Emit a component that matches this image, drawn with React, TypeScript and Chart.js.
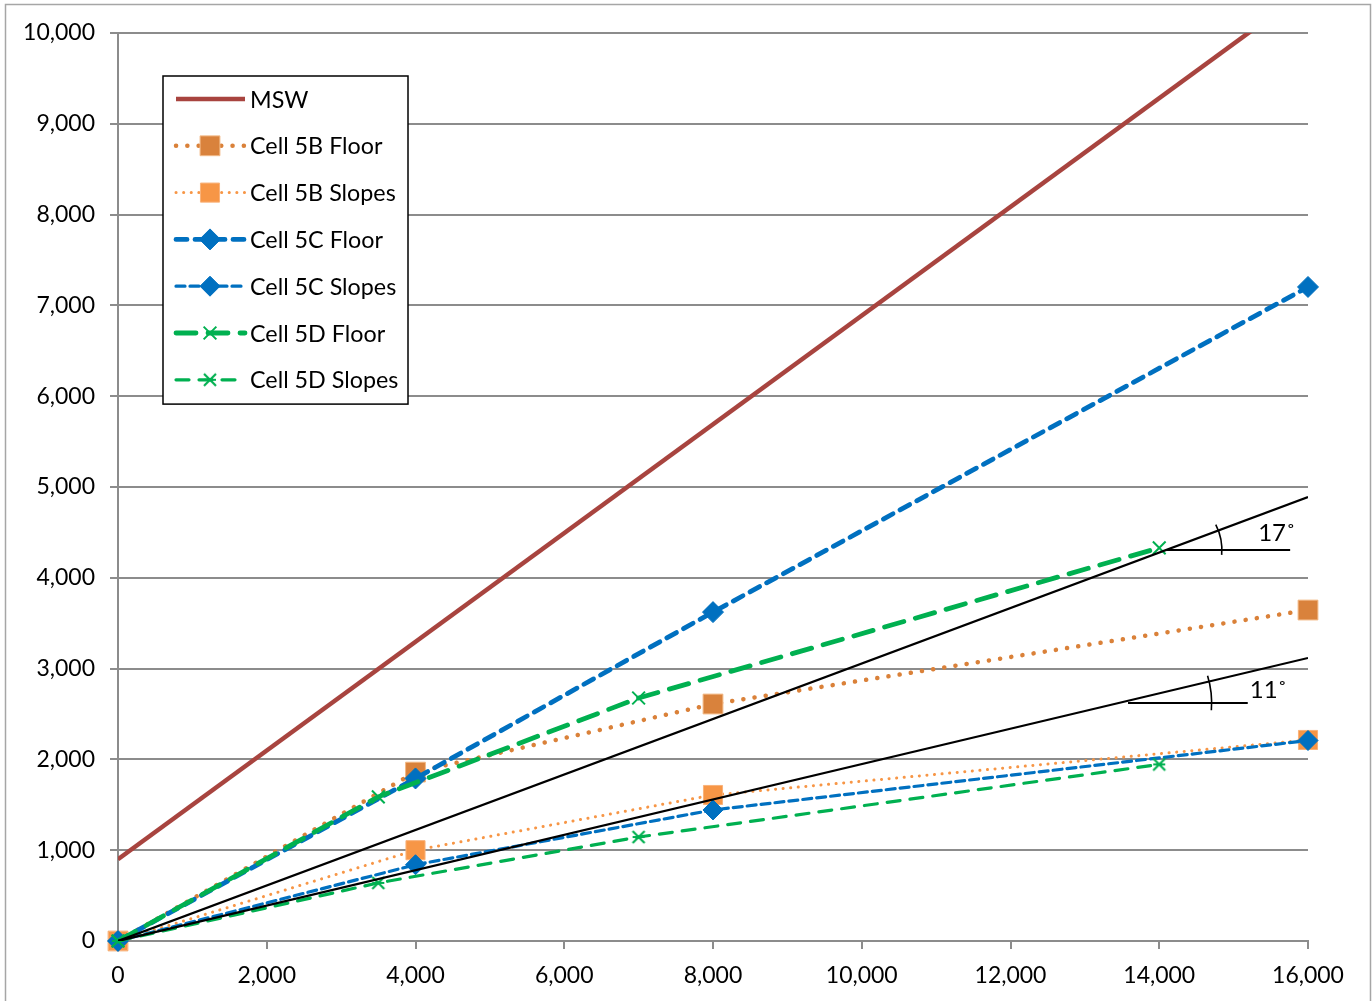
import React, { useEffect, useRef } from 'react';
import { Chart, registerables } from 'chart.js';

Chart.register(...registerables);

// ---- data ----
const xCell5BC = [0, 4000, 8000, 16000];
const cell5BFloor = [0, 1860, 2610, 3645];
const cell5BSlopes = [0, 1000, 1608, 2214];
const cell5CFloor = [0, 1790, 3622, 7203];
const cell5CSlopes = [0, 840, 1443, 2208];
const xCell5D = [0, 3500, 7000, 14000];
const cell5DFloor = [0, 1588, 2676, 4330];
const cell5DSlopes = [0, 640, 1145, 1945];
const mswX = [0, 16000];
const mswY = [900, 10480];
const refX = [0, 16000];
const ref17 = [0, 4890];
const ref11 = [0, 3117];
const angleNames = ['17˚', '11˚'];
const angleBaseY = [4306, 2621];
const angleBaseX0 = [14100, 13580];
const angleBaseX1 = [15760, 15190];
const xTicks = { min: 0, max: 16000, step: 2000 };
const yTicks = { min: 0, max: 10000, step: 1000 };

const pts = (xs: number[], ys: number[]) => xs.map((x, i) => ({ x, y: ys[i] }));

const FONT = 'Lato, "Open Sans", sans-serif';
const GRID = '#8c8c8c';

function makeStar(color: string) {
  const c = document.createElement('canvas');
  c.width = 20;
  c.height = 20;
  const g = c.getContext('2d')!;
  g.strokeStyle = color;
  g.lineWidth = 2.2;
  g.beginPath();
  g.moveTo(4, 4); g.lineTo(16, 16);
  g.moveTo(16, 4); g.lineTo(4, 16);
  g.moveTo(4, 10); g.lineTo(16, 10);
  g.stroke();
  return c;
}

function drawMarker(ctx: CanvasRenderingContext2D, ds: any, x: number, y: number) {
  const style = ds.pointStyle;
  const r = ds.pointRadius || 0;
  if (!r) return;
  ctx.save();
  ctx.setLineDash([]);
  ctx.fillStyle = ds.pointBackgroundColor;
  ctx.strokeStyle = ds.pointBorderColor;
  ctx.lineWidth = ds.pointBorderWidth;
  if (style instanceof HTMLCanvasElement) {
    ctx.drawImage(style, x - style.width / 2, y - style.height / 2);
  } else if (style === 'rect') {
    const s = Math.SQRT1_2 * r;
    ctx.beginPath();
    ctx.rect(x - s, y - s, 2 * s, 2 * s);
    ctx.fill();
    ctx.stroke();
  } else if (style === 'rectRot') {
    ctx.beginPath();
    ctx.moveTo(x - r, y);
    ctx.lineTo(x, y - r);
    ctx.lineTo(x + r, y);
    ctx.lineTo(x, y + r);
    ctx.closePath();
    ctx.fill();
    ctx.stroke();
  } else if (style === 'crossRot') {
    const o = Math.SQRT1_2 * r;
    ctx.beginPath();
    ctx.moveTo(x - o, y - o); ctx.lineTo(x + o, y + o);
    ctx.moveTo(x + o, y - o); ctx.lineTo(x - o, y + o);
    ctx.stroke();
  }
  ctx.restore();
}

const framePlugin = {
  id: 'frame',
  beforeDraw(chart: any) {
    const ctx = chart.ctx;
    ctx.save();
    ctx.fillStyle = '#ffffff';
    ctx.fillRect(0, 0, chart.width, chart.height);
    ctx.strokeStyle = '#a6a6a6';
    ctx.lineWidth = 1.5;
    ctx.strokeRect(5.5, 4.5, chart.width - 7, chart.height + 50);
    ctx.restore();
  },
};

const anglePlugin = {
  id: 'angles',
  afterDatasetsDraw(chart: any) {
    const ctx = chart.ctx;
    const xs = chart.scales.x;
    const ys = chart.scales.y;
    const slopes = [ref17[1] / refX[1], ref11[1] / refX[1]];
    const radii = [56, 93];
    const arcs = [[-27, 5], [-17, 4.5]];
    const labelOff = [[-32, -17], [2, -13]];
    ctx.save();
    for (let i = 0; i < angleNames.length; i++) {
      const yv = angleBaseY[i];
      const xv = yv / slopes[i];
      const cx = xs.getPixelForValue(xv);
      const cy = ys.getPixelForValue(yv);
      const sx = xs.getPixelForValue(angleBaseX0[i]);
      const ex = xs.getPixelForValue(angleBaseX1[i]);
      ctx.strokeStyle = '#000';
      ctx.lineWidth = 2;
      ctx.setLineDash([]);
      ctx.beginPath();
      ctx.moveTo(sx, cy);
      ctx.lineTo(ex, cy);
      ctx.stroke();
      ctx.lineWidth = 1.6;
      ctx.beginPath();
      ctx.arc(cx, cy, radii[i], (arcs[i][0] * Math.PI) / 180, (arcs[i][1] * Math.PI) / 180);
      ctx.stroke();
      ctx.fillStyle = '#000';
      ctx.font = `24px ${FONT}`;
      ctx.textAlign = 'left';
      ctx.textBaseline = 'middle';
      ctx.fillText(angleNames[i], ex + labelOff[i][0], cy + labelOff[i][1]);
    }
    ctx.restore();
  },
};

const legendPlugin = {
  id: 'boxLegend',
  afterDraw(chart: any) {
    const ctx = chart.ctx;
    const area = chart.chartArea;
    const items = chart.data.datasets.filter((d: any) => d.inLegend);
    const left = area.left + 45;
    const top = area.top + 43;
    const w = 245;
    const rowH = 46.8;
    const h = rowH * items.length + 0.5;
    ctx.save();
    ctx.fillStyle = '#fff';
    ctx.fillRect(left, top, w, h);
    ctx.strokeStyle = '#000';
    ctx.lineWidth = 1.5;
    ctx.strokeRect(left, top, w, h);
    items.forEach((ds: any, i: number) => {
      const y = top + 23 + i * rowH;
      ctx.save();
      ctx.strokeStyle = ds.borderColor;
      ctx.lineWidth = ds.borderWidth;
      ctx.lineCap = ds.borderCapStyle || 'butt';
      ctx.setLineDash(ds.borderDash || []);
      ctx.beginPath();
      ctx.moveTo(left + 13, y);
      ctx.lineTo(left + 82, y);
      ctx.stroke();
      ctx.restore();
      drawMarker(ctx, ds, left + 47, y);
      ctx.fillStyle = '#000';
      ctx.font = `23.3px ${FONT}`;
      ctx.textAlign = 'left';
      ctx.textBaseline = 'middle';
      ctx.fillText(ds.label, left + 87, y + 1);
    });
    ctx.restore();
  },
};

export default function App() {
  const ref = useRef<HTMLCanvasElement>(null);
  useEffect(() => {
    const star = makeStar('#00B050');
    const chart = new Chart(ref.current!, {
      type: 'line',
      data: {
        datasets: [
          {
            label: 'MSW', inLegend: true, order: 9, clip: 0,
            data: pts(mswX, mswY), borderColor: '#A8443F', borderWidth: 4.5,
            pointRadius: 0,
          },
          {
            label: 'Cell 5B Floor', inLegend: true, order: 8, clip: false,
            data: pts(xCell5BC, cell5BFloor), borderColor: '#DA8139', borderWidth: 4.5,
            borderDash: [0.1, 11.2], borderCapStyle: 'round',
            pointStyle: 'rect', pointRadius: 14, pointBackgroundColor: '#D9823C', pointBorderColor: '#F2B884', pointBorderWidth: 1,
          },
          {
            label: 'Cell 5B Slopes', inLegend: true, order: 7, clip: false,
            data: pts(xCell5BC, cell5BSlopes), borderColor: '#F79646', borderWidth: 3,
            borderDash: [0.1, 7.5], borderCapStyle: 'round',
            pointStyle: 'rect', pointRadius: 13.5, pointBackgroundColor: '#F79646', pointBorderColor: '#F9B27A', pointBorderWidth: 1,
          },
          {
            label: 'Cell 5C Floor', inLegend: true, order: 6, clip: false,
            data: pts(xCell5BC, cell5CFloor), borderColor: '#0070C0', borderWidth: 4.8,
            borderDash: [11, 8], borderCapStyle: 'round',
            pointStyle: 'rectRot', pointRadius: 10.5, pointBackgroundColor: '#0070C0', pointBorderColor: '#0070C0', pointBorderWidth: 1,
          },
          {
            label: 'Cell 5C Slopes', inLegend: true, order: 5, clip: false,
            data: pts(xCell5BC, cell5CSlopes), borderColor: '#0070C0', borderWidth: 3.2,
            borderDash: [9, 5], borderCapStyle: 'round',
            pointStyle: 'rectRot', pointRadius: 10, pointBackgroundColor: '#0070C0', pointBorderColor: '#0070C0', pointBorderWidth: 1,
          },
          {
            label: 'Cell 5D Floor', inLegend: true, order: 4, clip: false,
            data: pts(xCell5D, cell5DFloor), borderColor: '#00B050', borderWidth: 4.8,
            borderDash: [20, 12], borderCapStyle: 'round',
            pointStyle: 'crossRot', pointRadius: 9, pointBackgroundColor: '#00B050', pointBorderColor: '#00B050', pointBorderWidth: 2,
          },
          {
            label: 'Cell 5D Slopes', inLegend: true, order: 3, clip: false,
            data: pts(xCell5D, cell5DSlopes), borderColor: '#00B050', borderWidth: 3.2,
            borderDash: [13, 10], borderCapStyle: 'round',
            pointStyle: star, pointRadius: 9, pointBackgroundColor: '#00B050', pointBorderColor: '#00B050', pointBorderWidth: 2,
          },
          {
            label: '17', inLegend: false, order: 1, clip: 0,
            data: pts(refX, ref17), borderColor: '#000', borderWidth: 2.2, pointRadius: 0,
          },
          {
            label: '11', inLegend: false, order: 0, clip: 0,
            data: pts(refX, ref11), borderColor: '#000', borderWidth: 2.2, pointRadius: 0,
          },
        ] as any,
      },
      options: {
        animation: false,
        responsive: false,
        events: [],
        layout: { padding: { left: 0, top: 33, right: 64, bottom: 0 } },
        plugins: { legend: { display: false }, tooltip: { enabled: false } },
        elements: { line: { tension: 0, fill: false } },
        scales: {
          x: {
            type: 'linear',
            min: xTicks.min, max: xTicks.max,
            afterFit: (s: any) => { s.height = 60; },
            grid: { drawOnChartArea: false, drawTicks: true, tickLength: 8, color: GRID, lineWidth: 2 },
            border: { display: true, color: GRID, width: 2 },
            ticks: {
              stepSize: xTicks.step, autoSkip: false, maxRotation: 0, padding: 13,
              color: '#000', font: { family: FONT, size: 23 },
              callback: (v: any) => Number(v).toLocaleString('en-US'),
            },
          },
          y: {
            type: 'linear',
            min: yTicks.min, max: yTicks.max,
            afterFit: (s: any) => { s.width = 118; },
            grid: { drawOnChartArea: true, drawTicks: true, tickLength: 8, color: GRID, lineWidth: 2 },
            border: { display: true, color: GRID, width: 2 },
            ticks: {
              stepSize: yTicks.step, autoSkip: false, padding: 15,
              color: '#000', font: { family: FONT, size: 23 },
              callback: (v: any) => Number(v).toLocaleString('en-US'),
            },
          },
        },
      } as any,
      plugins: [framePlugin, anglePlugin, legendPlugin],
    });
    return () => chart.destroy();
  }, []);
  return (
    <div style={{ position: 'fixed', left: 0, top: 0, width: 1372, height: 1001, background: '#fff' }}>
      <canvas ref={ref} width={1372} height={1001} style={{ display: 'block' }} />
    </div>
  );
}
